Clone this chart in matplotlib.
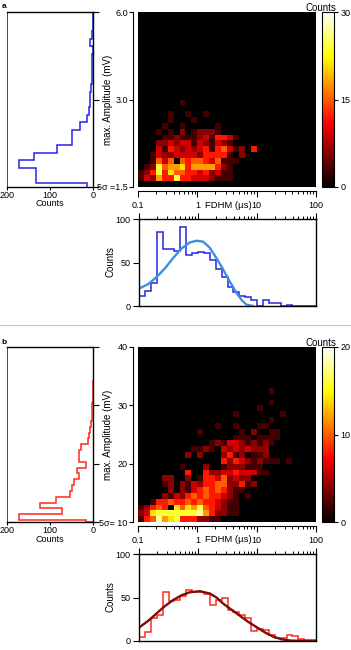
import numpy as np
import matplotlib
matplotlib.use("Agg")
import matplotlib.pyplot as plt
from matplotlib.lines import Line2D
from matplotlib.colors import LinearSegmentedColormap
from matplotlib.ticker import NullLocator, NullFormatter

plt.rcParams['font.family'] = ['Liberation Sans', 'DejaVu Sans']
plt.rcParams['font.size'] = 7
plt.rcParams['xtick.labelsize'] = 6.5
plt.rcParams['ytick.labelsize'] = 6.5

# ---------------- panel a ----------------
a_amp_edges = [1.45, 1.548, 1.646, 1.745, 1.854, 1.971, 2.095, 2.22, 2.361, 2.508, 2.659, 2.827, 3.004,
               3.183, 3.384, 3.597, 3.816, 4.052, 4.308, 4.568, 4.853, 5.16, 5.47, 5.82, 6.18]
a_amp_counts = [15, 132, 132, 171, 138, 83, 50, 50, 31, 14, 10, 8, 6, 4, 3, 3, 2, 2, 1, 6, 2, 1, 1, 0]

# heatmap levels 0-9 (x vmax/10), one string per amplitude bin from the bottom, one digit per FDHM bin
a_heat_rows = [
    "0",
    "1326448443332111",
    "1248475544342311",
    "0128566746666421",
    "00153505455435111",
    "001322333324444102",
    "00031432323414531204",
    "0002232331321321",
    "00001121112314431",
    "00010102012221",
    "00001001000001",
    "0000010001",
    "000001001001",
    "0",
    "00000001",
]
a_vmax = 30
a_cticks = [0, 15, 30]

a_fdhm_counts = [11, 17, 26, 85, 65, 65, 63, 91, 59, 61, 62, 61, 53, 43, 33, 22, 16, 12, 10, 7,
                 0, 7, 3, 4, 0, 1, 0, 0, 0, 0]
a_fit_x = [0.1, 0.142, 0.197, 0.273, 0.378, 0.523, 0.725, 0.94, 1.22, 1.58, 2.06, 2.67, 3.46, 4.5, 5.46, 6.64, 8.6]
a_fit_y = [20, 25, 33, 43, 55, 66, 73, 75, 74, 67, 55, 42, 28, 15, 7, 1.5, 0]

# ---------------- panel b ----------------
b_amp_edges = [10.0, 10.33, 11.33, 12.33, 13.33, 14.33, 15.33, 16.33, 17.33, 18.33, 19.33, 20.33, 21.33,
               22.33, 23.33, 24.33, 25.33, 26.33, 27.33, 28.33, 29.33, 30.33, 31.33, 32.33, 33.33, 34.33]
b_amp_counts = [17, 171, 73, 123, 85, 54, 50, 45, 32, 37, 17, 32, 33, 27, 12, 9, 8, 4, 3, 2, 2, 1, 1, 1, 1]

b_heat_rows = [
    "14596784442211",
    "23788888889642211",
    "12454075768543211",
    "00144544545443211",
    "0000213245454432101",
    "000002021345454211",
    "00001202132445522412",
    "0000220020144352322",
    "0000000040042233433311",
    "000000010002001222111",
    "00000000000000424321211101",
    "0000000020200024120112",
    "0000000001121032323222",
    "00000000000012133212121",
    "000000000000000011101111",
    "000000000010000001020011",
    "0000000000000100100011",
    "00000000000000000000001",
    "0000000000000000100000001",
    "000000000000000000001",
    "00000000000000000000001",
    "0",
    "00000000000000000000001",
]
b_vmax = 20
b_cticks = [0, 10, 20]

b_fdhm_counts = [5, 10, 27, 30, 56, 46, 47, 52, 59, 56, 56, 54, 41, 47, 49, 36, 33, 30, 26, 12,
                 14, 13, 7, 3, 3, 7, 6, 2, 1, 1]
b_fit_x = [0.1, 0.142, 0.197, 0.273, 0.378, 0.523, 0.725, 1.07, 1.58, 2.06, 2.67, 3.69, 5.12, 7.08,
           9.8, 13.5, 18.8, 26, 36, 50, 100]
b_fit_y = [15.4, 23, 31.5, 40, 47, 52.5, 56, 57.3, 54.6, 50, 43, 36, 29, 22, 16, 10, 5, 2, 0.6, 0.2, 0]

fdhm_edges = np.logspace(-1, 2, 31)   # 10 bins per decade

# "hot" but starting from true black
heat_cmap = LinearSegmentedColormap.from_list(
    'hot0', [(0, 'black'), (0.365, '#ff0000'), (0.746, '#ffff00'), (1, 'white')])

W, H = 351, 650
fig = plt.figure(figsize=(W / 100, H / 100), dpi=100)


def box(x0, y0, x1, y1):
    return fig.add_axes([x0 / W, 1 - y1 / H, (x1 - x0) / W, (y1 - y0) / H])


def ftext(x, y, s, **kw):
    kw.setdefault('ha', 'center')
    kw.setdefault('va', 'center')
    fig.text(x / W, 1 - y / H, s, **kw)


def to_grid(rows, vmax):
    g = np.zeros((30, 30))
    for i, s in enumerate(rows):
        vals = [int(c) for c in s]
        g[i, :len(vals)] = vals
    return g * vmax / 10.0


def panel(dy, letter, amp_edges, amp_counts, heat_rows, vmax, cticks, ylog, ylim, yticks, ylabels,
          fd_counts, fit_x, fit_y, hcol, fcol):
    ftext(4, 7 + dy, letter, fontsize=6, fontweight='bold')

    # amplitude histogram on the left
    hl = box(7, 12 + dy, 93, 187 + dy)
    hl.stairs(amp_counts, amp_edges, orientation='horizontal', color=hcol, lw=1.1)
    hl.set_xlim(200, 0)
    if ylog:
        hl.set_yscale('log')
    hl.set_ylim(*ylim)
    hl.set_yticks(yticks)
    hl.yaxis.set_minor_locator(NullLocator())
    hl.yaxis.tick_right()
    hl.set_yticklabels([])
    hl.set_xticks([200, 100, 0], ['200', '100', '0'])
    hl.tick_params(axis='x', length=2.5, width=0.8, pad=0.5)
    hl.tick_params(axis='y', length=4, width=0.8)
    for s in ['top', 'right', 'bottom']:
        hl.spines[s].set_linewidth(1.0)
    hl.spines['left'].set_linewidth(0.5)
    ftext(50, 204 + dy, 'Counts', fontsize=6.5)

    # 2D histogram
    ht = box(138, 12 + dy, 316, 187 + dy)
    ye = np.geomspace(ylim[0], ylim[1], 31) if ylog else np.linspace(ylim[0], ylim[1], 31)
    mesh = ht.pcolormesh(fdhm_edges, ye, to_grid(heat_rows, vmax), cmap=heat_cmap, vmin=0, vmax=vmax)
    ht.set_xscale('log')
    ht.set_xlim(0.1, 100)
    if ylog:
        ht.set_yscale('log')
    ht.set_ylim(*ylim)
    ht.spines['top'].set_visible(False)
    ht.spines['right'].set_visible(False)
    ht.spines['left'].set_position(('outward', 3.6))
    ht.spines['bottom'].set_position(('outward', 3))
    ht.set_yticks(yticks, ylabels)
    ht.yaxis.set_minor_locator(NullLocator())
    ht.set_xticks([0.1, 1, 10, 100], ['0.1', '1', '10', '100'])
    ht.xaxis.set_minor_formatter(NullFormatter())
    ht.tick_params(which='major', length=3, width=0.8, pad=0.8)
    ht.tick_params(axis='x', which='major', length=4, pad=3)
    ht.tick_params(which='minor', length=2.3, width=0.7)
    ftext(228, 205 + dy, 'FDHM (µs)', fontsize=6.8)
    ftext(108, 100 + dy, 'max. Amplitude (mV)', rotation=90)

    cax = box(322, 12 + dy, 334, 187 + dy)
    cb = fig.colorbar(mesh, cax=cax, ticks=cticks)
    cb.outline.set_linewidth(0.8)
    cax.tick_params(length=3, width=0.8, pad=1.5)
    ftext(321, 8 + dy, 'Counts')

    # FDHM histogram with fit
    fd = box(139, 219 + dy, 316, 306 + dy)
    fd.stairs(fd_counts, fdhm_edges, color=hcol, lw=1.1)
    fd.plot(fit_x, fit_y, color=fcol, lw=1.7)
    fd.set_xscale('log')
    fd.set_xlim(0.1, 100)
    fd.set_ylim(0, 100)
    fd.xaxis.tick_top()
    fd.set_xticks([0.1, 1, 10, 100])
    fd.xaxis.set_major_formatter(NullFormatter())
    fd.xaxis.set_minor_formatter(NullFormatter())
    fd.set_yticks([0, 50, 100])
    fd.tick_params(which='major', length=4.3, width=0.8, pad=2)
    fd.tick_params(which='minor', length=2.4, width=0.7)
    for s in fd.spines.values():
        s.set_linewidth(1.0)
    ftext(111, 262 + dy, 'Counts', rotation=90)


panel(0, 'a', a_amp_edges, a_amp_counts, a_heat_rows, a_vmax, a_cticks, True, (1.5, 6),
      [1.5, 3, 6], ['5σ =1.5', '3.0', '6.0'], a_fdhm_counts, a_fit_x, a_fit_y, '#2424e8', '#3a8fe0')
panel(335, 'b', b_amp_edges, b_amp_counts, b_heat_rows, b_vmax, b_cticks, False, (10, 40),
      [10, 20, 30, 40], ['5σ= 10', '20', '30', '40'], b_fdhm_counts, b_fit_x, b_fit_y, '#ff2b1c', '#7a0d0d')

fig.add_artist(Line2D([0, 1], [1 - 325 / H, 1 - 325 / H], color='#c8c8c8', lw=0.8))

fig.savefig('out.png', dpi=100)
